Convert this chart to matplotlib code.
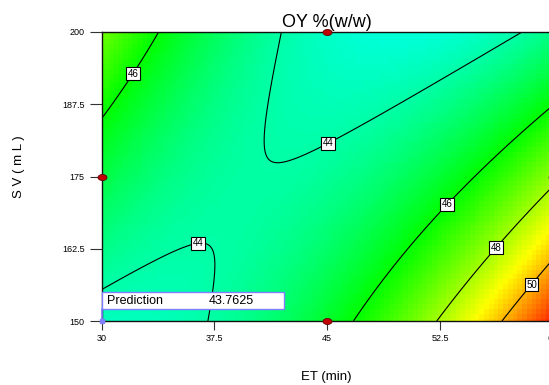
import numpy as np
import matplotlib
matplotlib.use("Agg")
import matplotlib.pyplot as plt
from matplotlib.colors import LinearSegmentedColormap
from matplotlib.patches import Rectangle
from matplotlib.path import Path
from matplotlib.transforms import Affine2D

plt.rcParams['font.family'] = ['Liberation Sans', 'DejaVu Sans']

# points (ET, SV, level)
contour_et = [42.07, 41.18, 40.5, 40.6, 41.0, 45.0, 51.4, 57.78,
              30.0, 33.2, 36.36, 37.2, 37.75, 37.35, 36.9,
              33.84, 31.96, 30.0, 60.0, 52.84, 49.81, 46.78,
              59.72, 56.06, 53.46, 52.36,
              59.7, 58.44, 56.71]
contour_sv = [200.0, 190.5, 178.0, 176.0, 175.4, 181.2, 190.6, 200.0,
              155.2, 160.2, 165.3, 164.9, 162.3, 155.1, 150.0,
              200.0, 193.0, 184.5, 186.5, 170.5, 160.6, 150.0,
              172.4, 163.0, 153.6, 150.0,
              159.7, 156.6, 150.0]
contour_lvl = [44] * 15 + [46] * 7 + [48] * 4 + [50] * 3

pred_et, pred_sv, pred_val = 30.0, 150.0, 43.7625

levels = [44, 46, 48, 50]
label_pos = [(44.97, 181.2), (36.3, 165.3), (31.96, 193.0), (52.84, 170.5),
             (56.06, 163.0), (58.44, 156.6)]

design_et = [45, 30, 45, 60]
design_sv = [200, 175, 150, 175]

xticks = [30, 37.5, 45, 52.5, 60]
xticklabels = ["30", "37.5", "45", "52.5", "60"]
yticks = [150, 162.5, 175, 187.5, 200]
yticklabels = ["150", "162.5", "175", "187.5", "200"]


def terms(et, sv):
    a = (np.asarray(et, float) - 45) / 15
    b = (np.asarray(sv, float) - 175) / 25
    return np.stack([np.ones_like(a), a, b, a * b, a * a, b * b], axis=-1)


# quadratic response surface fitted to the read points
X = terms(contour_et + [pred_et], contour_sv + [pred_sv])
z = np.array(contour_lvl + [pred_val], float)
coef, *_ = np.linalg.lstsq(X, z, rcond=None)

cmap = LinearSegmentedColormap.from_list(
    "de", ["#0000ff", "#00ffff", "#00ff00", "#ffff00", "#ff0000"])

fig = plt.figure(figsize=(5.49, 3.85), dpi=100)
ax = fig.add_axes([0.1849, 0.1662, 0.8224, 0.7507])

gx = np.linspace(30, 60, 96)
gy = np.linspace(150, 200, 60)
GX, GY = np.meshgrid(gx, gy)
GZ = terms(GX, GY) @ coef
ax.pcolormesh(GX, GY, GZ, cmap=cmap, vmin=39.8, vmax=52.2, shading='nearest')

fx = np.linspace(30, 60, 300)
fy = np.linspace(150, 200, 300)
FX, FY = np.meshgrid(fx, fy)
FZ = terms(FX, FY) @ coef
cs = ax.contour(FX, FY, FZ, levels=levels, colors='black', linewidths=0.8)
labs = ax.clabel(cs, fmt='%d', fontsize=7, inline=False, manual=label_pos)
for t in labs:
    t.set_rotation(0)
    t.set_bbox(dict(boxstyle='square,pad=0.15', fc='white', ec='black', lw=0.8))
    t.set_zorder(5)

# prediction flag
ax.add_patch(Rectangle((30, 152.06), 12.13, 2.95, fc='white', ec='#8080ff',
                       lw=1.0, zorder=6, clip_on=False))
ax.plot([30, 30], [150, 152.06], color='#8080ff', lw=1.2, zorder=6, clip_on=False)
ax.plot([pred_et], [pred_sv], marker='s', ms=3, color='#8080ff', zorder=7, clip_on=False)
ax.text(30.35, 153.5, "Prediction", fontsize=9, va='center', ha='left', zorder=7)
ax.text(37.15, 153.5, f"{pred_val:.4f}", fontsize=9, va='center', ha='left', zorder=7)

ell = Path.unit_circle().transformed(Affine2D().scale(1.5, 1.0))
ax.plot(design_et, design_sv, ls='none', marker=ell, ms=6.5, mfc='#c00000',
        mec='#600000', mew=0.6, zorder=8, clip_on=False)

ax.set_xlim(30, 60)
ax.set_ylim(150, 200)
ax.set_xticks(xticks)
ax.set_xticklabels(xticklabels)
ax.set_yticks(yticks)
ax.set_yticklabels(yticklabels)
ax.tick_params(axis='x', length=6.5, width=0.8, color='#333333', labelsize=6.5, pad=3)
ax.tick_params(axis='y', length=8.6, width=0.8, color='#333333', labelsize=6.5, pad=3.5)
for s in ax.spines.values():
    s.set_linewidth(1.0)
    s.set_color('#111111')

fig.text(327 / 549, 0.929, "OY %(w/w)", fontsize=13, ha='center', va='baseline')
fig.text(326 / 549, 0.012, "ET (min)", fontsize=9.5, ha='center', va='baseline')
fig.text(19 / 549, 1 - 167 / 385, "S V ( m L )", fontsize=9.5, rotation=90,
         ha='center', va='center')

fig.savefig("out.png", dpi=100)
